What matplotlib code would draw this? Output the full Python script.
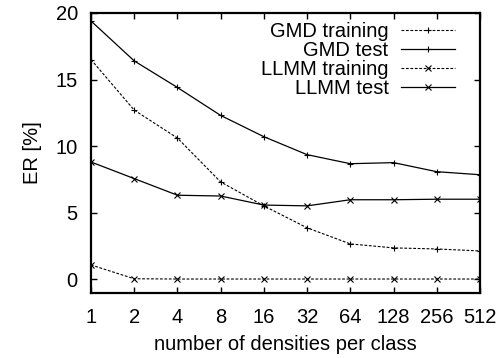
import matplotlib
matplotlib.use("Agg")
import matplotlib.pyplot as plt

categories = ["1", "2", "4", "8", "16", "32", "64", "128", "256", "512"]
gmd_training = [16.5, 12.7, 10.6, 7.3, 5.5, 3.85, 2.64, 2.34, 2.26, 2.11]
gmd_test = [19.4, 16.4, 14.4, 12.3, 10.7, 9.35, 8.67, 8.75, 8.07, 7.84]
llmm_training = [1.06, 0.02, 0.0, 0.0, 0.0, 0.0, 0.0, 0.0, 0.0, 0.0]
llmm_test = [8.8, 7.55, 6.3, 6.24, 5.56, 5.5, 5.96, 5.96, 6.0, 6.0]
yticks = [0, 5, 10, 15, 20]

FS = 14.5
plt.rcParams['font.family'] = ['Liberation Sans', 'DejaVu Sans']
plt.rcParams['font.size'] = FS

fig = plt.figure(figsize=(5.01, 3.58), dpi=100)
ax = fig.add_axes([0.1816, 0.1816, 0.958 - 0.1816, 0.9637 - 0.1816])

x = list(range(len(categories)))
dash = (0, (2.5, 1.5))
ax.plot(x, gmd_training, color='black', lw=0.8, ls=dash, marker='+', ms=5, mew=0.8, label='GMD training')
ax.plot(x, gmd_test, color='black', lw=0.9, ls='-', marker='+', ms=5, mew=0.8, label='GMD test')
ax.plot(x, llmm_training, color='black', lw=0.8, ls=dash, marker='x', ms=4, mew=0.8, label='LLMM training')
ax.plot(x, llmm_test, color='black', lw=0.9, ls='-', marker='x', ms=4, mew=0.8, label='LLMM test')

ax.set_xlim(0, len(categories) - 1)
ax.set_ylim(-1.05, 20)
ax.set_xticks(x)
ax.set_xticklabels(categories)
ax.set_yticks(yticks)
ax.tick_params(axis='x', direction='in', top=True, length=4, width=1, pad=10.5, labelsize=FS)
ax.tick_params(axis='y', direction='in', right=True, length=4, width=1, pad=9.5, labelsize=FS)
for s in ax.spines.values():
    s.set_linewidth(1.6)

ax.set_ylabel('ER [%]', labelpad=10)
ax.set_xlabel('number of densities per class', labelpad=6)

leg = ax.legend(loc='upper right', bbox_to_anchor=(0.936, 0.967), frameon=False, markerfirst=False,
                handlelength=2.7, handletextpad=0.6, labelspacing=0.0, borderaxespad=0.0,
                borderpad=0.0, fontsize=FS)

fig.savefig('out.png', dpi=100)
